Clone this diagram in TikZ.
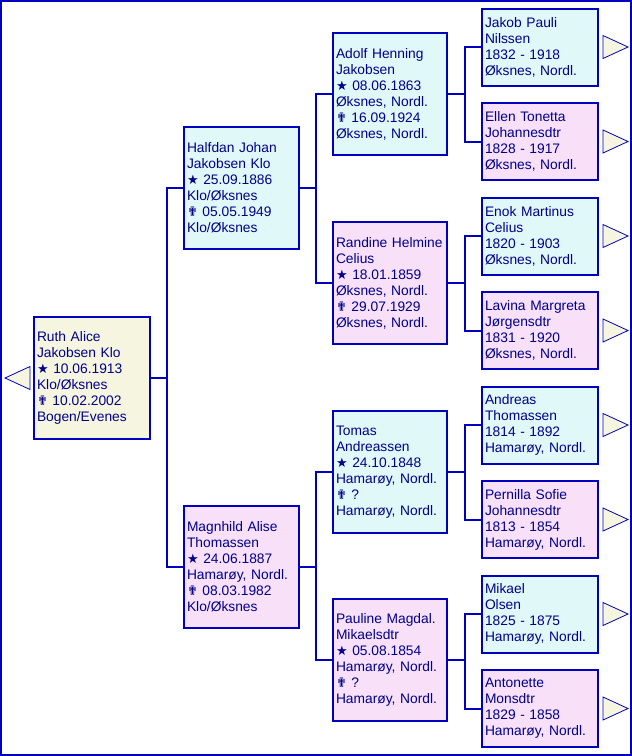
\documentclass[tikz,border=0pt]{standalone}
\usepackage{fontspec}
\setmainfont{Liberation Sans}
\newfontfamily\symfont{DejaVu Sans}
\usetikzlibrary{calc}

\definecolor{lineblue}{RGB}{0,0,192}
\definecolor{textblue}{RGB}{0,0,140}
\definecolor{rootfill}{RGB}{246,246,224}
\definecolor{malefill}{RGB}{224,248,248}
\definecolor{femalefill}{RGB}{248,224,248}

\newcommand{\born}{{\symfont\fontsize{13}{16}\selectfont ★}}
\newcommand{\died}{{\symfont\fontsize{13}{16}\selectfont ✟}}

\tikzset{
  person/.style={draw=lineblue, line width=2pt, text=textblue, align=left, inner sep=0pt,
    font=\fontsize{13.8}{16}\selectfont},
  gen0/.style={person, minimum width=116pt, minimum height=122pt, text width=110pt},
  gen1/.style={person, minimum width=115pt, minimum height=122pt, text width=109pt},
  gen2/.style={person, minimum width=114pt, minimum height=122pt, text width=108pt},
  gen3/.style={person, minimum width=116pt, minimum height=77pt, text width=110pt},
  male/.style={fill=malefill},
  female/.style={fill=femalefill},
  self/.style={fill=rootfill},
  link/.style={draw=lineblue, line width=2pt},
  more/.style={draw=lineblue, line width=0.8pt, fill=rootfill}
}

\begin{document}
\begin{tikzpicture}[x=1pt, y=-1pt]
    \useasboundingbox (0,0) rectangle (632,756);
    % Frame
    \draw[lineblue, line width=2pt] (1,1) rectangle (631,755);

    % Persons
    \node[gen0, self] (ruth) at (92,378) {Ruth Alice\\Jakobsen Klo\\\born{} 10.06.1913\\Klo/Øksnes\\\died{} 10.02.2002\\Bogen/Evenes};

    \node[gen1, male] (halfdan) at (241.5,188) {Halfdan Johan\\Jakobsen Klo\\\born{} 25.09.1886\\Klo/Øksnes\\\died{} 05.05.1949\\Klo/Øksnes};
    \node[gen1, female] (magnhild) at (241.5,567) {Magnhild Alise\\Thomassen\\\born{} 24.06.1887\\Hamarøy, Nordl.\\\died{} 08.03.1982\\Klo/Øksnes};

    \node[gen2, male] (adolf) at (390,94) {Adolf Henning\\Jakobsen\\\born{} 08.06.1863\\Øksnes, Nordl.\\\died{} 16.09.1924\\Øksnes, Nordl.};
    \node[gen2, female] (randine) at (390,283) {Randine Helmine\\Celius\\\born{} 18.01.1859\\Øksnes, Nordl.\\\died{} 29.07.1929\\Øksnes, Nordl.};
    \node[gen2, male] (tomas) at (390,472) {Tomas\\Andreassen\\\born{} 24.10.1848\\Hamarøy, Nordl.\\\died{} ?\\Hamarøy, Nordl.};
    \node[gen2, female] (pauline) at (390,660) {Pauline Magdal.\\Mikaelsdtr\\\born{} 05.08.1854\\Hamarøy, Nordl.\\\died{} ?\\Hamarøy, Nordl.};

    \node[gen3, male] (jakob) at (540,47) {Jakob Pauli\\Nilssen\\1832 - 1918\\Øksnes, Nordl.};
    \node[gen3, female] (ellen) at (540,141.5) {Ellen Tonetta\\Johannesdtr\\1828 - 1917\\Øksnes, Nordl.};
    \node[gen3, male] (enok) at (540,236) {Enok Martinus\\Celius\\1820 - 1903\\Øksnes, Nordl.};
    \node[gen3, female] (lavina) at (540,330.5) {Lavina Margreta\\Jørgensdtr\\1831 - 1920\\Øksnes, Nordl.};
    \node[gen3, male] (andreas) at (540,425) {Andreas\\Thomassen\\1814 - 1892\\Hamarøy, Nordl.};
    \node[gen3, female] (pernilla) at (540,519.5) {Pernilla Sofie\\Johannesdtr\\1813 - 1854\\Hamarøy, Nordl.};
    \node[gen3, male] (mikael) at (540,614) {Mikael\\Olsen\\1825 - 1875\\Hamarøy, Nordl.};
    \node[gen3, female] (antonette) at (540,708.5) {Antonette\\Monsdtr\\1829 - 1858\\Hamarøy, Nordl.};

    % Links
    \draw[link] (ruth.east) -- ++(16,0) |- (halfdan.west);
    \draw[link] (ruth.east) -- ++(16,0) |- (magnhild.west);
    \draw[link] (halfdan.east) -- ++(16,0) |- (adolf.west);
    \draw[link] (halfdan.east) -- ++(16,0) |- (randine.west);
    \draw[link] (magnhild.east) -- ++(16,0) |- (tomas.west);
    \draw[link] (magnhild.east) -- ++(16,0) |- (pauline.west);
    \draw[link] (adolf.east) -- ++(17,0) |- (jakob.west);
    \draw[link] (adolf.east) -- ++(17,0) |- (ellen.west);
    \draw[link] (randine.east) -- ++(17,0) |- (enok.west);
    \draw[link] (randine.east) -- ++(17,0) |- (lavina.west);
    \draw[link] (tomas.east) -- ++(17,0) |- (andreas.west);
    \draw[link] (tomas.east) -- ++(17,0) |- (pernilla.west);
    \draw[link] (pauline.east) -- ++(17,0) |- (mikael.west);
    \draw[link] (pauline.east) -- ++(17,0) |- (antonette.west);

    % Arrows
    \draw[more] ($(ruth.west)+(-3,-11.5)$) -- ++(0,23) -- ++(-25,-11.5) -- cycle;
    \foreach \n in {jakob,ellen,enok,lavina,andreas,pernilla,mikael,antonette}
        \draw[more] ($(\n.east)+(4,-11.5)$) -- ++(0,23) -- ++(25,-11.5) -- cycle;
\end{tikzpicture}
\end{document}
